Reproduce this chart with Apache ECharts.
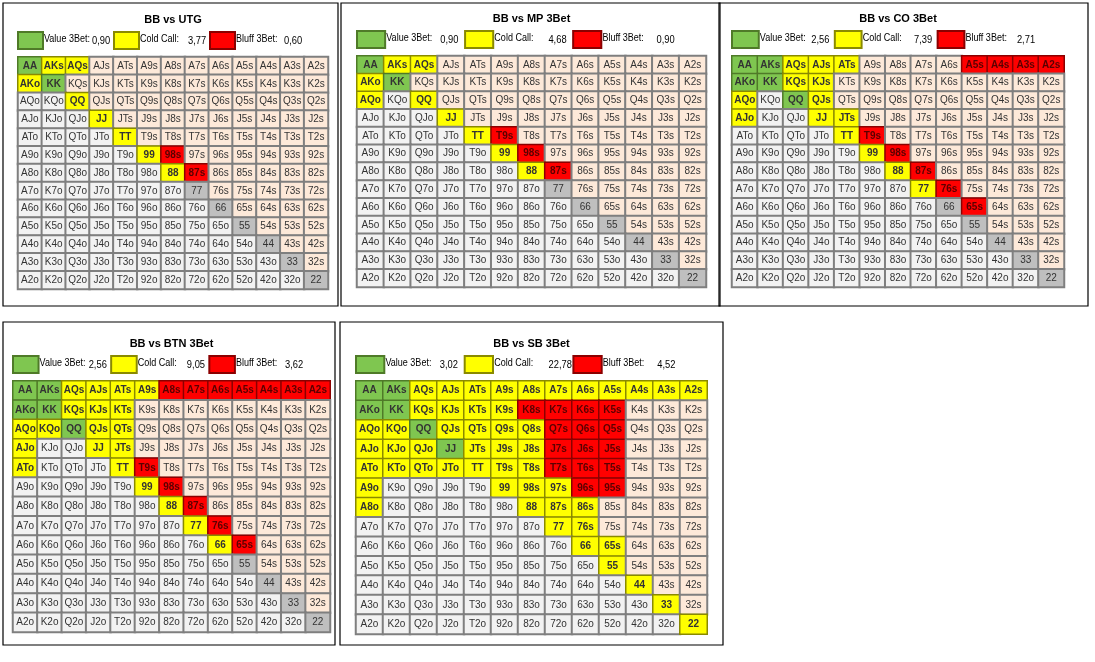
<!DOCTYPE html>
<html lang="en">
<head>
<meta charset="UTF-8">
<title>BB 3Bet ranges</title>
<script src="https://cdn.jsdelivr.net/npm/echarts@6/dist/echarts.min.js"></script>
<style>
    *{margin:0;padding:0;}
    html,body{width:100%;height:100%;background:#fff;}
    .container{width:1095px;height:662px;}
</style>
</head>
<body>
<div class="container"></div>
<script>
    // ranks along both axes
    let ranks = ['A','K','Q','J','T','9','8','7','6','5','4','3','2'];

    let titles = ['BB vs UTG', 'BB vs MP 3Bet', 'BB vs CO 3Bet', 'BB vs BTN 3Bet', 'BB vs SB 3Bet'];
    let valueStats = ['0,90', '0,90', '2,56', '2,56', '3,02'];
    let callStats  = ['3,77', '4,68', '7,39', '9,05', '22,78'];
    let bluffStats = ['0,60', '0,90', '2,71', '3,62', '4,52'];

    let valueHands = [
        ['AA','KK'],
        ['AA','KK'],
        ['AA','AKs','AKo','KK','QQ'],
        ['AA','AKs','AKo','KK','QQ'],
        ['AA','AKs','AKo','KK','QQ','JJ']
    ];
    let callHands = [
        ['AKs','AQs','AKo','QQ','JJ','TT','99','88'],
        ['AKs','AQs','AKo','AQo','QQ','JJ','TT','99','88'],
        ['AQs','AJs','ATs','KQs','KJs','AQo','QJs','AJo','JJ','JTs','TT','99','88','77'],
        ['AQs','AJs','ATs','A9s','KQs','KJs','KTs','AQo','KQo','QJs','QTs','AJo','JJ','JTs','ATo','TT','99','88','77','66'],
        ['AQs','AJs','ATs','A9s','A8s','A7s','A6s','A5s','A4s','A3s','A2s','KQs','KJs','KTs','K9s',
         'AQo','KQo','QJs','QTs','Q9s','Q8s','AJo','KJo','QJo','JTs','J9s','J8s',
         'ATo','KTo','QTo','JTo','TT','T9s','T8s','A9o','99','98s','97s','A8o','88','87s','86s',
         '77','76s','66','65s','55','44','33','22']
    ];
    let bluffHands = [
        ['98s','87s'],
        ['T9s','98s','87s'],
        ['A5s','A4s','A3s','A2s','T9s','98s','87s','76s','65s'],
        ['A8s','A7s','A6s','A5s','A4s','A3s','A2s','T9s','98s','87s','76s','65s'],
        ['K8s','K7s','K6s','K5s','Q7s','Q6s','Q5s','J7s','J6s','J5s','T7s','T6s','T5s','96s','95s']
    ];

    // panel layout: frame [x,y,w,h], grid [left,top,width,height]
    let frames = [[3,3,335,303],[341,3,379,303],[719,3,369,303],[3,322,332,323],[340,322,383,323]];
    let grids  = [[18,57,310,232],[357,56,349,231],[732,56,332,231],[13,381,317,251],[356,381,351,253]];

    let colors = {
        off: '#f2f2f2', suit: '#fde9d9', pair: '#bfbfbf',
        value: '#7fc650', call: '#ffff00', bluff: '#ff0000'
    };
    let borders = {value:'#4f7a28', call:'#8a8a00', bluff:'#8b0000'};

    function handName(i, j){
        if(i===j) return ranks[i]+ranks[j];
        if(j>i) return ranks[i]+ranks[j]+'s';
        return ranks[j]+ranks[i]+'o';
    }

    let chart = echarts.init(document.querySelector('.container'));
    let gridOpts=[], xAxes=[], yAxes=[], series=[], graphic=[];
    let font = "'Liberation Sans', sans-serif";

    titles.forEach((title, p)=>{
        let g = grids[p], f = frames[p];
        gridOpts.push({left:g[0], top:g[1], width:g[2], height:g[3], show:true,
            backgroundColor:'#7f7f7f', borderColor:'#666', borderWidth:2});
        xAxes.push({type:'category', gridIndex:p, data:ranks, show:false});
        yAxes.push({type:'category', gridIndex:p, data:ranks, inverse:true, show:false});

        let data=[];
        for(let i=0;i<13;i++){
            for(let j=0;j<13;j++){
                let h = handName(i,j), kind;
                if(valueHands[p].includes(h)) kind='value';
                else if(callHands[p].includes(h)) kind='call';
                else if(bluffHands[p].includes(h)) kind='bluff';
                else kind = i===j ? 'pair' : (j>i ? 'suit' : 'off');
                let strong = ['value','call','bluff'].includes(kind);
                data.push({
                    name:h,
                    value:[j,i,1],
                    itemStyle:{color:colors[kind], borderColor: strong ? borders[kind] : '#7f7f7f', borderWidth: strong ? 1.5 : 2},
                    label:{fontWeight: strong ? 'bold' : 'normal', color: kind==='bluff' ? '#5a0000' : '#333'}
                });
            }
        }
        series.push({
            type:'heatmap', xAxisIndex:p, yAxisIndex:p, data,
            label:{show:true, formatter:params=>params.name, fontSize:10, fontFamily:font},
            emphasis:{disabled:true}
        });

        // frame
        graphic.push({type:'rect', shape:{x:f[0], y:f[1], width:f[2], height:f[3]},
            style:{fill:'none', stroke:'#000', lineWidth:1.2}, silent:true});
        // title
        graphic.push({type:'text', x:g[0]+g[2]/2, y:g[1]-37, style:{text:title, font:'bold 11px '+font,
            fill:'#000', textAlign:'center', textVerticalAlign:'middle'}});
        // legend
        let s = g[2]/310, ly = g[1]-16;
        let items = [['value','Value 3Bet:',valueStats[p],0],['call','Cold Call:',callStats[p],96],['bluff','Bluff 3Bet:',bluffStats[p],192]];
        items.forEach(it=>{
            let x0 = g[0] + it[3]*s;
            graphic.push({type:'rect', shape:{x:x0, y:ly-9, width:25*s, height:17},
                style:{fill:colors[it[0]], stroke:borders[it[0]], lineWidth:2}});
            graphic.push({type:'text', x:x0+26*s, y:ly-2, scaleX:0.82, style:{text:it[1], font:'11px '+font, fill:'#000', textVerticalAlign:'middle'}});
            graphic.push({type:'text', x:x0+74*s, y:ly, scaleX:0.85, style:{text:it[2], font:'11px '+font, fill:'#000', textVerticalAlign:'middle'}});
        });
    });

    chart.setOption({
        animation:false,
        grid:gridOpts, xAxis:xAxes, yAxis:yAxes, series, graphic
    });
</script>
</body>
</html>
